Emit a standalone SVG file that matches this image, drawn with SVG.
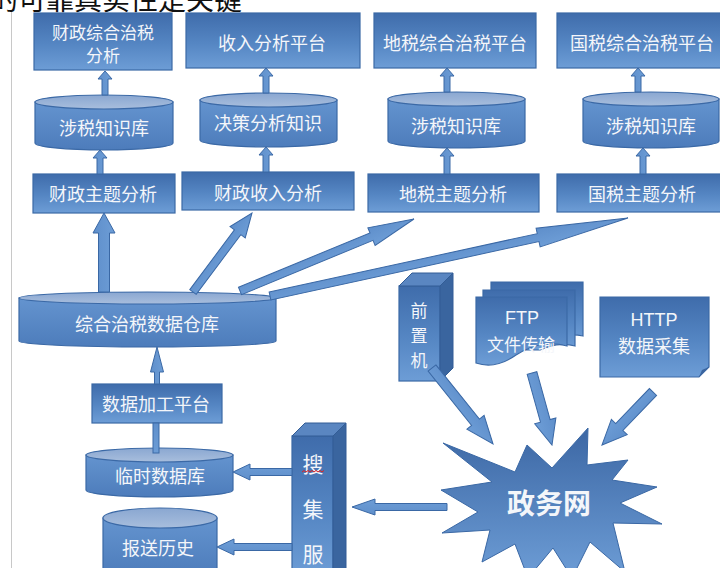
<svg xmlns="http://www.w3.org/2000/svg" width="720" height="568" viewBox="0 0 720 568">
<defs>
<linearGradient id="gBox" x1="0" y1="0" x2="0" y2="1"><stop offset="0" stop-color="#3f6cab"/><stop offset="0.55" stop-color="#5586c3"/><stop offset="1" stop-color="#6d9dd6"/></linearGradient>
<linearGradient id="gCyl" x1="0" y1="0" x2="0" y2="1"><stop offset="0" stop-color="#6494cf"/><stop offset="1" stop-color="#4d7cbb"/></linearGradient>
<linearGradient id="gTop" x1="0" y1="0" x2="0" y2="1"><stop offset="0" stop-color="#8aa7d1"/><stop offset="1" stop-color="#a8bedd"/></linearGradient>
<linearGradient id="gArr" x1="0" y1="0" x2="0" y2="1"><stop offset="0" stop-color="#5f8fcb"/><stop offset="1" stop-color="#6d9dd6"/></linearGradient>
<linearGradient id="gStar" x1="0" y1="0" x2="0" y2="1"><stop offset="0" stop-color="#3c67a4"/><stop offset="1" stop-color="#6d9dd6"/></linearGradient>
<style>
.box{fill:url(#gBox);stroke:#3b69a6;stroke-width:1.2}
.cylb{fill:url(#gCyl);stroke:#3b69a6;stroke-width:1.2}
.cylt{fill:url(#gTop);stroke:#3b69a6;stroke-width:1.2}
.arr{fill:url(#gArr);stroke:#3a68a5;stroke-width:1}
.side{fill:#3a659f;stroke:#335d96;stroke-width:1}
.topf{fill:#5a86c1;stroke:#335d96;stroke-width:1}
.t{font-family:"Noto Sans CJK SC","Noto Sans",sans-serif;font-size:18px;fill:#f4f6fa;text-anchor:middle;dominant-baseline:central}
.l{font-family:"Liberation Sans",Arial,sans-serif;font-size:18px;fill:#f4f6fa;text-anchor:middle;dominant-baseline:central}
</style>
</defs>
<rect width="720" height="568" fill="#ffffff"/>
<text x="-10" y="10" font-family="Noto Sans CJK SC, sans-serif" font-size="28" fill="#111">的可靠真实性是关键</text>
<line x1="11.5" y1="12" x2="11.5" y2="568" stroke="#c8c8c8" stroke-width="1"/>

<g id="n-caizheng-zonghe"><rect class="box" x="34" y="13" width="138" height="57"/><text class="t" x="103" y="31" style="font-size:17px">财政综合治税</text><text class="t" x="103" y="54" style="font-size:17px">分析</text></g>
<g id="n-shouru-pingtai"><rect class="box" x="186" y="13" width="174" height="55"/><text class="t" x="272" y="42">收入分析平台</text></g>
<g id="n-dishui-pingtai"><rect class="box" x="374" y="13" width="162" height="55"/><text class="t" x="455" y="42">地税综合治税平台</text></g>
<g id="n-guoshui-pingtai"><rect class="box" x="557" y="13" width="170" height="55"/><text class="t" x="642" y="42">国税综合治税平台</text></g>

<g id="n-zhishiku1"><path class="cylb" d="M35,102 V143 A69,7 0 0 0 173,143 V102 Z"/><ellipse class="cylt" cx="104" cy="102" rx="69" ry="7"/><text class="t" x="104" y="127">涉税知识库</text></g>
<g id="n-juece"><path class="cylb" d="M200,100 V140 A68.5,7 0 0 0 337,140 V100 Z"/><ellipse class="cylt" cx="268.5" cy="100" rx="68.5" ry="7"/><text class="t" x="268" y="122">决策分析知识</text></g>
<g id="n-zhishiku3"><path class="cylb" d="M388,99 V141 A68.5,7 0 0 0 525,141 V99 Z"/><ellipse class="cylt" cx="456.5" cy="99" rx="68.5" ry="7"/><text class="t" x="456" y="125">涉税知识库</text></g>
<g id="n-zhishiku4"><path class="cylb" d="M583,99 V141 A68,7 0 0 0 719,141 V99 Z"/><ellipse class="cylt" cx="651" cy="99" rx="68" ry="7"/><text class="t" x="651" y="125">涉税知识库</text></g>

<g id="n-caizheng-zhuti"><rect class="box" x="33" y="174" width="142" height="39"/><text class="t" x="103" y="193">财政主题分析</text></g>
<g id="n-caizheng-shouru"><rect class="box" x="182" y="172" width="172" height="38"/><text class="t" x="268" y="192">财政收入分析</text></g>
<g id="n-dishui-zhuti"><rect class="box" x="368" y="174" width="171" height="38"/><text class="t" x="453" y="193">地税主题分析</text></g>
<g id="n-guoshui-zhuti"><rect class="box" x="557" y="174" width="170" height="38"/><text class="t" x="642" y="193">国税主题分析</text></g>

<g id="n-cangku"><path class="cylb" d="M19,298 V341 A128.5,6 0 0 0 276,341 V298 Z"/><ellipse class="cylt" cx="147.5" cy="298" rx="128.5" ry="6"/><text class="t" x="147" y="323">综合治税数据仓库</text></g>
<g id="n-jiagong"><rect class="box" x="92" y="384" width="130" height="39"/><text class="t" x="156" y="403">数据加工平台</text></g>
<g id="n-linshi"><path class="cylb" d="M86,455 V490 A73.5,7 0 0 0 233,490 V455 Z"/><ellipse class="cylt" cx="159.5" cy="455" rx="73.5" ry="7"/><text class="t" x="160" y="475">临时数据库</text></g>
<g id="n-baosong"><path class="cylb" d="M103,518 V575 H217 V518 Z"/><ellipse class="cylt" cx="160" cy="518" rx="57" ry="10"/><text class="t" x="158" y="547">报送历史</text></g>

<g id="n-souji"><rect class="box" x="292" y="436" width="41" height="140"/><polygon class="topf" points="292,436 305,423 346,423 333,436"/><polygon class="side" points="333,436 346,423 346,576 333,576"/><text class="t" x="313" y="463" style="font-size:21px">搜</text><text class="t" x="313" y="508" style="font-size:21px">集</text><text class="t" x="313" y="553" style="font-size:21px">服</text><path d="M302,472 l2,-1.5 l2,1.5 l2,-1.5 l2,1.5 l2,-1.5 l2,1.5 l2,-1.5 l2,1.5 l2,-1.5 l2,1.5 l2,-1.5" fill="none" stroke="#e02020" stroke-width="1"/></g>

<g id="n-qianzhiji"><rect class="box" x="399" y="286" width="41" height="95"/><polygon class="topf" points="399,286 412,273 453,273 440,286"/><polygon class="side" points="440,286 453,273 453,368 440,381"/><text class="t" x="419" y="309" style="font-size:17px">前</text><text class="t" x="419" y="334" style="font-size:17px">置</text><text class="t" x="419" y="359" style="font-size:17px">机</text></g>

<g id="n-ftp"><path class="box" d="M491,282 H583 V336 C570,333 560,336 550,340 H491 Z"/><path class="box" d="M483,290 H575 V346 C562,342 550,346 540,350 H483 Z"/><path class="box" d="M476,297 H567 V346 C546,340 530,346 516,355 C502,365 488,367 476,363 Z"/><text class="l" x="522" y="318">FTP</text><text class="t" x="521" y="343" style="font-size:17px">文件传输</text></g>

<g id="n-http"><path class="box" d="M600,297 H709 V367 L699,377 H600 Z"/><polygon points="699,377 702,370 709,367" fill="#3a659f"/><text class="l" x="654" y="320">HTTP</text><text class="t" x="654" y="345">数据采集</text></g>

<g id="n-zhengwuwang"><polygon points="443,443 515,472 527,445 552,468 588,428 587,465 628,460 612,480 657,487 620,503 662,524 613,523 625,572 590,542 572,578 553,548 528,578 515,544 482,562 490,530 442,533 478,512 441,490 492,482" fill="url(#gStar)" stroke="#3a68a5" stroke-width="1"/><text class="t" x="549" y="502" style="font-size:28px;font-weight:bold">政务网</text></g>

<g id="connectors">
<polygon class="arr" transform="translate(105,95) rotate(-90)" points="0,-3 16,-3 16,-7 24,0 16,7 16,3 0,3"/>
<polygon class="arr" transform="translate(266,93) rotate(-90)" points="0,-3 17,-3 17,-7 25,0 17,7 17,3 0,3"/>
<polygon class="arr" transform="translate(447,92) rotate(-90)" points="0,-3 16,-3 16,-7 24,0 16,7 16,3 0,3"/>
<polygon class="arr" transform="translate(638,92) rotate(-90)" points="0,-3 16,-3 16,-7 24,0 16,7 16,3 0,3"/>
<polygon class="arr" transform="translate(100,174) rotate(-90)" points="0,-3 16,-3 16,-7 24,0 16,7 16,3 0,3"/>
<polygon class="arr" transform="translate(266,172) rotate(-90)" points="0,-3 17,-3 17,-7 25,0 17,7 17,3 0,3"/>
<polygon class="arr" transform="translate(447,174) rotate(-90)" points="0,-3 18,-3 18,-7 26,0 18,7 18,3 0,3"/>
<polygon class="arr" transform="translate(643,174) rotate(-90)" points="0,-3 18,-3 18,-7 26,0 18,7 18,3 0,3"/>
<polygon class="arr" transform="translate(104,292) rotate(-90)" points="0,-5.5 59,-5.5 59,-11 79,0 59,11 59,5.5 0,5.5"/>
<polygon class="arr" transform="translate(193,292) rotate(-53.25)" points="0,-4 74.6,-4 74.6,-9.5 98.6,0 74.6,9.5 74.6,4 0,4"/>
<polygon class="arr" transform="translate(240,291) rotate(-22.48)" points="0,-4 142.3,-4 142.3,-9.5 188.3,0 142.3,9.5 142.3,4 0,4"/>
<polygon class="arr" transform="translate(270,296) rotate(-12.29)" points="0,-4 274.4,-4 274.4,-9.5 366.4,0 274.4,9.5 274.4,4 0,4"/>
<polygon class="arr" transform="translate(157,384) rotate(-90)" points="0,-2.5 12,-2.5 12,-6.5 37,0 12,6.5 12,2.5 0,2.5"/>
<rect class="arr" x="153" y="423" width="6" height="30"/>
<polygon class="arr" transform="translate(292,472) rotate(180)" points="0,-3.5 42,-3.5 42,-8 59,0 42,8 42,3.5 0,3.5"/>
<polygon class="arr" transform="translate(292,547) rotate(180)" points="0,-3.5 58,-3.5 58,-8 75,0 58,8 58,3.5 0,3.5"/>
<polygon class="arr" transform="translate(447,507) rotate(180)" points="0,-3.5 72,-3.5 72,-8 95,0 72,8 72,3.5 0,3.5"/>
<polygon class="arr" transform="translate(432,368) rotate(51.25)" points="0,-5 69.5,-5 69.5,-11 97.5,0 69.5,11 69.5,5 0,5"/>
<polygon class="arr" transform="translate(532,373) rotate(74.48)" points="0,-5 49.7,-5 49.7,-11 74.7,0 49.7,11 49.7,5 0,5"/>
<polygon class="arr" transform="translate(653,392) rotate(133.9)" points="0,-5 48.6,-5 48.6,-11 73.6,0 48.6,11 48.6,5 0,5"/>
</g>
</svg>
